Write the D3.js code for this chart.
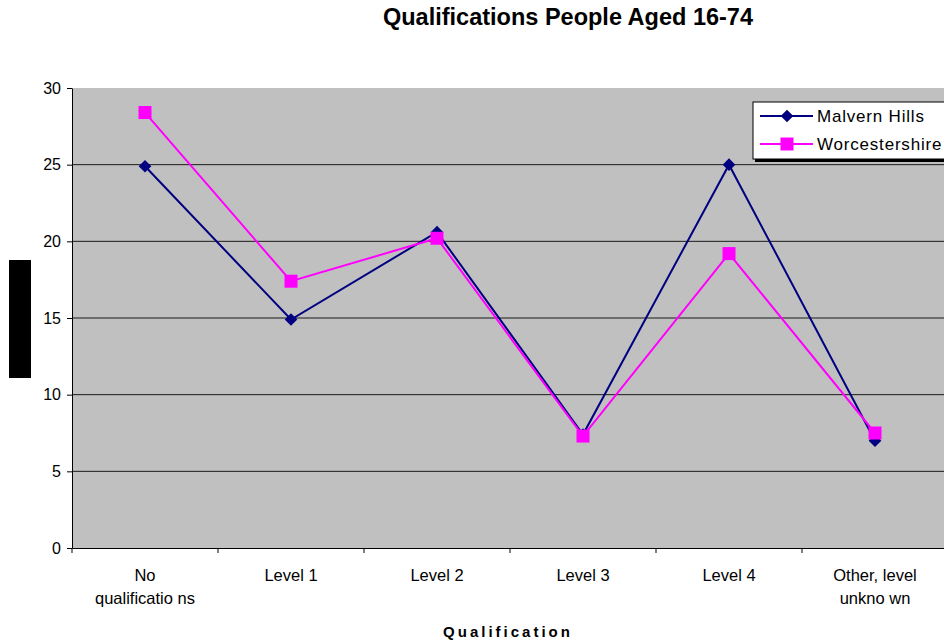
<!DOCTYPE html>
<html>
<head>
<meta charset="utf-8">
<script src="https://cdn.jsdelivr.net/npm/d3@7"></script>
<style>
  body { margin: 0; background: #fff; }
  text { font-family: "Liberation Sans", Arial, sans-serif; }
</style>
</head>
<body>
<svg id="chart" width="944" height="642"></svg>
<script>
// chart values
var categories = ['No qualifications', 'Level 1', 'Level 2', 'Level 3', 'Level 4', 'Other, level unknown'];
var catLines = [['No', 'qualificatio ns'], ['Level 1'], ['Level 2'], ['Level 3'], ['Level 4'], ['Other, level', 'unkno wn']];
var malvern = [24.9, 14.9, 20.6, 7.4, 25.0, 7.0];
var worcs = [28.4, 17.4, 20.2, 7.3, 19.2, 7.5];
var yTicks = [0, 5, 10, 15, 20, 25, 30];
var seriesNames = ['Malvern Hills', 'Worcestershire'];

var svg = d3.select('#chart');
var pLeft = 72, pTop = 88, pRight = 948, pBottom = 548;

var x = d3.scaleBand().domain(categories).range([pLeft, pRight]);
var y = d3.scaleLinear().domain([0, 30]).range([pBottom, pTop]);

// plot background
svg.append('rect')
    .attr('x', pLeft).attr('y', pTop)
    .attr('width', pRight - pLeft).attr('height', pBottom - pTop)
    .attr('fill', '#c0c0c0');

// gridlines
svg.append('g').selectAll('line')
    .data(yTicks.filter(function(d) { return d > 0 && d < 30; }))
    .enter().append('line')
    .attr('x1', pLeft).attr('x2', pRight)
    .attr('y1', function(d) { return y(d); })
    .attr('y2', function(d) { return y(d); })
    .attr('stroke', '#1a1a1a').attr('stroke-width', 1);

// y axis
var yAxis = d3.axisLeft(y).tickValues(yTicks).tickSize(5).tickSizeOuter(0);
var gy = svg.append('g').attr('transform', 'translate(' + pLeft + ',0)').call(yAxis);
gy.select('.domain').attr('stroke', '#000');
gy.selectAll('text')
    .attr('font-size', 16).attr('fill', '#000').attr('dx', -3)
    .attr('font-family', '"Liberation Sans", Arial, sans-serif');

// x axis, ticks between categories
var xAxis = d3.axisBottom(x).tickSize(0).tickFormat('');
var gx = svg.append('g').attr('transform', 'translate(0,' + pBottom + ')').call(xAxis);
gx.select('.domain').attr('stroke', '#000');
gx.selectAll('.sep')
    .data(categories)
    .enter().append('line')
    .attr('x1', function(d) { return x(d); })
    .attr('x2', function(d) { return x(d); })
    .attr('y1', 0).attr('y2', 5)
    .attr('stroke', '#000');

var lbl = svg.append('g').selectAll('text')
    .data(categories)
    .enter().append('text')
    .attr('text-anchor', 'middle')
    .attr('font-size', 16.5)
    .attr('fill', '#000');
lbl.each(function(d, i) {
    var t = d3.select(this);
    catLines[i].forEach(function(s, j) {
        t.append('tspan')
            .attr('x', x(d) + x.bandwidth() / 2)
            .attr('y', 581 + j * 23)
            .text(s);
    });
});

// titles
svg.append('text')
    .attr('x', 568).attr('y', 25)
    .attr('text-anchor', 'middle')
    .attr('font-size', 23.5).attr('font-weight', 'bold')
    .text('Qualifications People Aged 16-74');

svg.append('text')
    .attr('x', 508).attr('y', 637)
    .attr('text-anchor', 'middle')
    .attr('font-size', 15).attr('font-weight', 'bold')
    .attr('letter-spacing', 3)
    .text('Qualification');

// y title rendered as black block
svg.append('rect')
    .attr('x', 9).attr('y', 260)
    .attr('width', 22).attr('height', 118)
    .attr('fill', '#000');

var cx = function(d, i) { return x(categories[i]) + x.bandwidth() / 2; };
var line = d3.line().x(cx).y(function(d) { return y(d); });
var diamond = d3.symbol().type(d3.symbolSquare).size(80);

// Malvern Hills
svg.append('path').datum(malvern)
    .attr('d', line).attr('fill', 'none')
    .attr('stroke', '#000080').attr('stroke-width', 2);
svg.append('g').selectAll('path')
    .data(malvern).enter().append('path')
    .attr('d', diamond)
    .attr('transform', function(d, i) { return 'translate(' + cx(d, i) + ',' + y(d) + ') rotate(45)'; })
    .attr('fill', '#000080');

// Worcestershire
svg.append('path').datum(worcs)
    .attr('d', line).attr('fill', 'none')
    .attr('stroke', '#ff00ff').attr('stroke-width', 2);
svg.append('g').selectAll('rect')
    .data(worcs).enter().append('rect')
    .attr('x', function(d, i) { return cx(d, i) - 6.5; })
    .attr('y', function(d) { return y(d) - 6.5; })
    .attr('width', 13).attr('height', 13)
    .attr('fill', '#ff00ff');

// legend
var lg = svg.append('g');
lg.append('rect')
    .attr('x', 755).attr('y', 105).attr('width', 200).attr('height', 57)
    .attr('fill', '#000');
lg.append('rect')
    .attr('x', 753).attr('y', 102).attr('width', 200).attr('height', 57)
    .attr('fill', '#fff').attr('stroke', '#000').attr('stroke-width', 1);

var colors = ['#000080', '#ff00ff'];
seriesNames.forEach(function(name, i) {
    var ly = 116 + i * 28;
    lg.append('line')
        .attr('x1', 760).attr('x2', 813).attr('y1', ly).attr('y2', ly)
        .attr('stroke', colors[i]).attr('stroke-width', 2);
    if (i === 0) {
        lg.append('path')
            .attr('d', diamond)
            .attr('transform', 'translate(787,' + ly + ') rotate(45)')
            .attr('fill', colors[i]);
    } else {
        lg.append('rect')
            .attr('x', 787 - 6.5).attr('y', ly - 6.5)
            .attr('width', 13).attr('height', 13)
            .attr('fill', colors[i]);
    }
    lg.append('text')
        .attr('x', 817).attr('y', ly + 6)
        .attr('font-size', 17)
        .attr('letter-spacing', 0.8)
        .text(name);
});
</script>
</body>
</html>
